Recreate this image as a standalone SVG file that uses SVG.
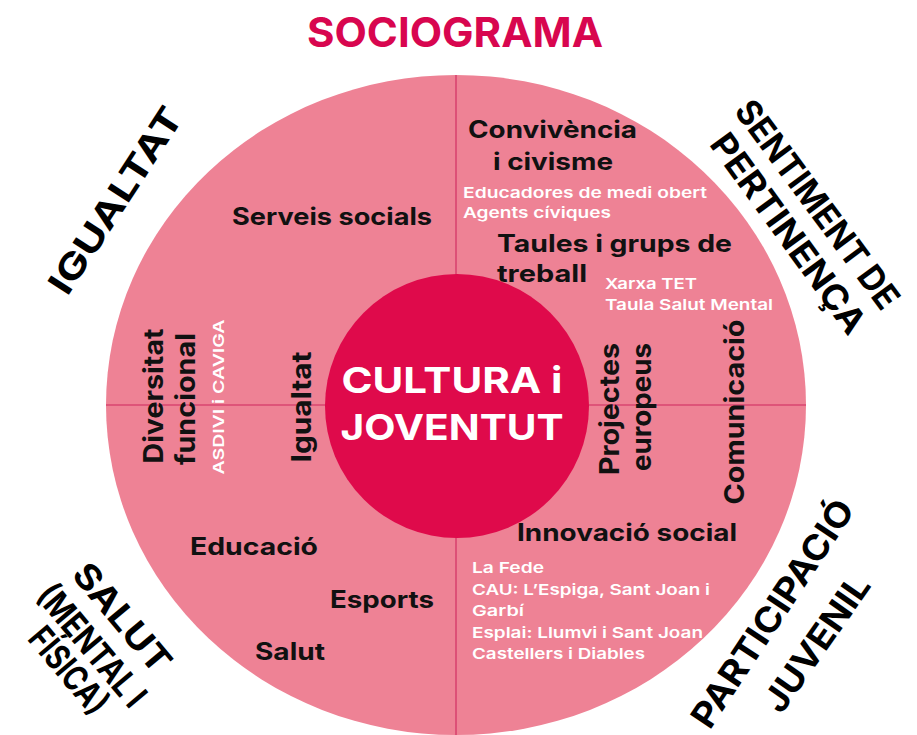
<svg xmlns="http://www.w3.org/2000/svg" width="917" height="735" viewBox="0 0 917 735">
<defs>
<style>
.t{font-family:Inter,"Noto Sans","DejaVu Sans",sans-serif;font-weight:700}
.blk{fill:#111}
.wht{fill:#fff}
.sm{font-size:15px;font-weight:600}
.md{font-size:24px}
.rt{font-size:27px}
.big{font-size:36px}
.out{font-size:35px;fill:#000}
.ax{stroke:#D94470;stroke-width:1.6;fill:none}
</style>
<clipPath id="ell"><ellipse cx="456" cy="405" rx="350" ry="330"/></clipPath>
</defs>
<rect width="917" height="735" fill="#fff"/>
<g id="title"><text class="t" x="455" y="47" text-anchor="middle" font-size="41" fill="#D8064F" textLength="296" lengthAdjust="spacingAndGlyphs">SOCIOGRAMA</text></g>
<g id="outer-circle"><ellipse cx="456" cy="405" rx="350" ry="330" fill="#EE8295"/></g>
<g id="connectors" clip-path="url(#ell)">
<line class="ax" x1="456" y1="60" x2="456" y2="740"/>
<line class="ax" x1="100" y1="405" x2="810" y2="405"/>
</g>
<g id="center"><circle cx="457" cy="406" r="132" fill="#DF0A4B"/>
<text class="t big wht" x="452" y="393" text-anchor="middle" textLength="221" lengthAdjust="spacingAndGlyphs">CULTURA i</text>
<text class="t big wht" x="452" y="440" text-anchor="middle" textLength="223" lengthAdjust="spacingAndGlyphs">JOVENTUT</text></g>
<g id="serveis"><text class="t md blk" x="232" y="225" textLength="200" lengthAdjust="spacingAndGlyphs">Serveis socials</text></g>
<g id="convivencia">
<text class="t md blk" x="468" y="138" textLength="169" lengthAdjust="spacingAndGlyphs">Convivència</text>
<text class="t md blk" x="493" y="170" textLength="120" lengthAdjust="spacingAndGlyphs">i civisme</text>
<text class="t sm wht" x="463" y="198" textLength="244" lengthAdjust="spacingAndGlyphs">Educadores de medi obert</text>
<text class="t sm wht" x="463" y="218" textLength="148" lengthAdjust="spacingAndGlyphs">Agents cíviques</text></g>
<g id="taules">
<text class="t md blk" x="497" y="252" textLength="235" lengthAdjust="spacingAndGlyphs">Taules i grups de</text>
<text class="t md blk" x="497" y="282" textLength="90" lengthAdjust="spacingAndGlyphs">treball</text>
<text class="t sm wht" x="605" y="289" textLength="92" lengthAdjust="spacingAndGlyphs">Xarxa TET</text>
<text class="t sm wht" x="605" y="310" textLength="168" lengthAdjust="spacingAndGlyphs">Taula Salut Mental</text></g>
<g id="diversitat">
<text class="t rt blk" transform="translate(163,396) rotate(-90)" text-anchor="middle" textLength="135" lengthAdjust="spacingAndGlyphs">Diversitat</text>
<text class="t rt blk" transform="translate(195,399) rotate(-90)" text-anchor="middle" textLength="132" lengthAdjust="spacingAndGlyphs">funcional</text>
<text class="t sm wht" transform="translate(224,397) rotate(-90)" text-anchor="middle" textLength="155" lengthAdjust="spacingAndGlyphs">ASDIVI i CAVIGA</text></g>
<g id="igualtat-in"><text class="t rt blk" transform="translate(311,407) rotate(-90)" text-anchor="middle" textLength="111" lengthAdjust="spacingAndGlyphs">Igualtat</text></g>
<g id="projectes">
<text class="t rt blk" transform="translate(619,409) rotate(-90)" text-anchor="middle" textLength="132" lengthAdjust="spacingAndGlyphs">Projectes</text>
<text class="t rt blk" transform="translate(651,407) rotate(-90)" text-anchor="middle" textLength="128" lengthAdjust="spacingAndGlyphs">europeus</text></g>
<g id="comunicacio"><text class="t rt blk" transform="translate(744,412) rotate(-90)" text-anchor="middle" textLength="185" lengthAdjust="spacingAndGlyphs">Comunicació</text></g>
<g id="innovacio">
<text class="t md blk" x="517" y="541" textLength="220" lengthAdjust="spacingAndGlyphs">Innovació social</text>
<text class="t sm wht" x="472" y="573" textLength="72" lengthAdjust="spacingAndGlyphs">La Fede</text>
<text class="t sm wht" x="472" y="594.5" textLength="238" lengthAdjust="spacingAndGlyphs">CAU: L’Espiga, Sant Joan i</text>
<text class="t sm wht" x="472" y="616" textLength="52" lengthAdjust="spacingAndGlyphs">Garbí</text>
<text class="t sm wht" x="472" y="637.5" textLength="231" lengthAdjust="spacingAndGlyphs">Esplai: Llumvi i Sant Joan</text>
<text class="t sm wht" x="472" y="659" textLength="173" lengthAdjust="spacingAndGlyphs">Castellers i Diables</text></g>
<g id="educacio"><text class="t md blk" x="190" y="555" textLength="128" lengthAdjust="spacingAndGlyphs">Educació</text></g>
<g id="esports"><text class="t md blk" x="330" y="608" textLength="104" lengthAdjust="spacingAndGlyphs">Esports</text></g>
<g id="salut-in"><text class="t md blk" x="255" y="660" textLength="70" lengthAdjust="spacingAndGlyphs">Salut</text></g>
<g id="label-igualtat"><text class="t out" transform="translate(115,200) rotate(-57)" y="13" text-anchor="middle" textLength="215" lengthAdjust="spacingAndGlyphs">IGUALTAT</text></g>
<g id="label-sentiment">
<text class="t out" transform="translate(818,204) rotate(53.5)" y="13" text-anchor="middle" textLength="250" lengthAdjust="spacingAndGlyphs">SENTIMENT DE</text>
<text class="t out" transform="translate(789,233) rotate(54)" y="13" text-anchor="middle" textLength="238" lengthAdjust="spacingAndGlyphs">PERTINENÇA</text></g>
<g id="label-salut">
<text class="t out" transform="translate(122,618) rotate(50)" y="12" text-anchor="middle" textLength="132" lengthAdjust="spacingAndGlyphs">SALUT</text>
<text class="t out" font-size="26" transform="translate(90,647) rotate(50)" y="10" text-anchor="middle" textLength="148" lengthAdjust="spacingAndGlyphs">(MENTAL I</text>
<text class="t out" font-size="26" transform="translate(67,672) rotate(50)" y="10" text-anchor="middle" textLength="102" lengthAdjust="spacingAndGlyphs">FÍSICA)</text></g>
<g id="label-participacio">
<text class="t out" transform="translate(772,613) rotate(-56.5)" y="13" text-anchor="middle" textLength="265" lengthAdjust="spacingAndGlyphs">PARTICIPACIÓ</text>
<text class="t out" transform="translate(816,643) rotate(-55)" y="13" text-anchor="middle" textLength="158" lengthAdjust="spacingAndGlyphs">JUVENIL</text></g>
</svg>
